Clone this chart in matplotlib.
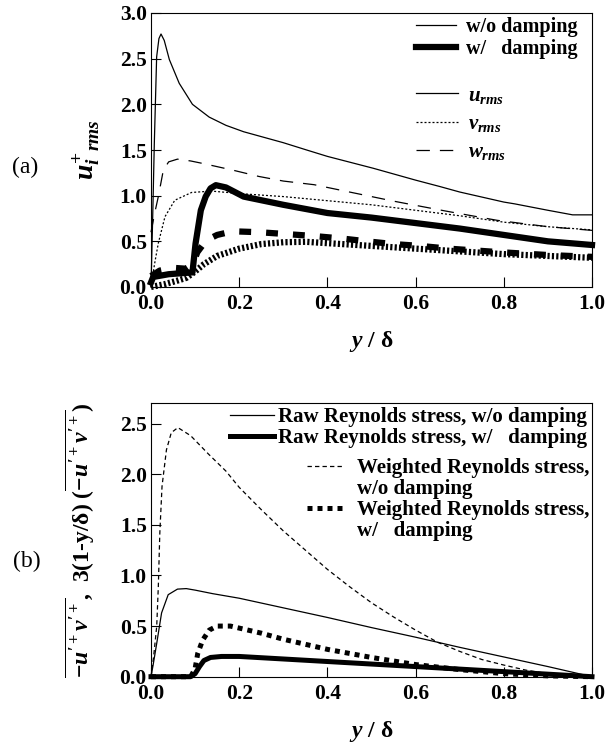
import numpy as np
import matplotlib
matplotlib.use('Agg')
import matplotlib.pyplot as plt
from matplotlib.lines import Line2D

plt.rcParams['font.family'] = ['Liberation Serif', 'DejaVu Serif']
plt.rcParams['font.weight'] = 'bold'
plt.rcParams['axes.labelweight'] = 'bold'
plt.rcParams['mathtext.fontset'] = 'custom'
plt.rcParams['mathtext.it'] = 'Liberation Serif:italic:bold'
plt.rcParams['mathtext.rm'] = 'Liberation Serif:bold'
plt.rcParams['mathtext.bf'] = 'Liberation Serif:bold'

# (a) rms velocity, w/o damping
yA_u0 = [0.0, 0.004, 0.0075, 0.0128, 0.018, 0.0227, 0.03, 0.0416, 0.064, 0.094, 0.132, 0.17, 0.21,
         0.3, 0.353, 0.4, 0.504, 0.6, 0.655, 0.7, 0.8, 0.825, 0.9, 0.956, 1.0]
uA_u0 = [0.0, 0.8, 1.57, 2.52, 2.72, 2.77, 2.7, 2.49, 2.23, 2.0, 1.86, 1.77, 1.70,
         1.58, 1.50, 1.43, 1.30, 1.17, 1.10, 1.04, 0.93, 0.91, 0.84, 0.79, 0.79]
yA_v0 = [0.0, 0.008, 0.0166, 0.0317, 0.054, 0.092, 0.137, 0.22, 0.3, 0.4, 0.5, 0.6, 0.7, 0.8, 0.9, 1.0]
uA_v0 = [0.0, 0.25, 0.48, 0.77, 0.95, 1.035, 1.05, 1.016, 0.99, 0.945, 0.90, 0.84, 0.78, 0.71, 0.66, 0.625]
yA_w0 = [0.0, 0.008, 0.0166, 0.028, 0.04, 0.06, 0.09, 0.12, 0.185, 0.245, 0.3, 0.37, 0.45, 0.55, 0.67, 0.785, 0.9, 1.0]
uA_w0 = [0.6, 0.8, 0.99, 1.28, 1.37, 1.40, 1.38, 1.35, 1.28, 1.21, 1.16, 1.12, 1.04, 0.94, 0.83, 0.73, 0.66, 0.62]

# (a) rms velocity, w/ damping
yA_u1 = [0.0, 0.005, 0.04, 0.094, 0.101, 0.113, 0.124, 0.135, 0.147, 0.17, 0.21, 0.25, 0.3, 0.4, 0.5,
         0.6, 0.7, 0.8, 0.9, 1.0]
uA_u1 = [0.05, 0.11, 0.14, 0.16, 0.475, 0.84, 0.99, 1.08, 1.115, 1.09, 0.99, 0.95, 0.90, 0.81, 0.76,
         0.70, 0.64, 0.57, 0.50, 0.46]
yA_v1 = [0.0, 0.03, 0.06, 0.08, 0.1, 0.12, 0.15, 0.2, 0.25, 0.3, 0.35, 0.4, 0.5, 0.6, 0.7, 0.8, 0.9, 1.0]
uA_v1 = [0.0, 0.03, 0.07, 0.10, 0.17, 0.25, 0.34, 0.42, 0.47, 0.49, 0.495, 0.48, 0.45, 0.42, 0.39, 0.36, 0.34, 0.32]
yA_w1 = [0.0, 0.02, 0.05, 0.08, 0.095, 0.105, 0.125, 0.15, 0.185, 0.245, 0.305, 0.365, 0.435, 0.49, 0.55,
         0.61, 0.675, 0.735, 0.795, 0.9, 1.0]
uA_w1 = [0.12, 0.18, 0.21, 0.2, 0.25, 0.38, 0.51, 0.57, 0.61, 0.60, 0.58, 0.56, 0.53, 0.50, 0.47,
         0.45, 0.42, 0.40, 0.38, 0.35, 0.33]

# (b) Reynolds stress
yB_raw0 = [0.0, 0.005, 0.013, 0.024, 0.039, 0.06, 0.08, 0.1, 0.14, 0.2, 0.3, 0.4, 0.5, 0.6, 0.7, 0.8, 0.9, 1.0]
sB_raw0 = [0.0, 0.12, 0.33, 0.63, 0.81, 0.865, 0.87, 0.855, 0.82, 0.775, 0.68, 0.585, 0.485, 0.39, 0.29, 0.195, 0.10, 0.0]
yB_wt0 = [0.0, 0.006, 0.013, 0.0166, 0.02, 0.025, 0.035, 0.046, 0.061, 0.09, 0.13, 0.17, 0.2, 0.25, 0.3,
          0.35, 0.4, 0.45, 0.5, 0.55, 0.6, 0.65, 0.7, 0.75, 0.8, 0.85, 0.9, 0.95, 1.0]
sB_wt0 = [0.0, 0.2, 0.5, 0.89, 1.42, 1.88, 2.24, 2.41, 2.46, 2.38, 2.2, 2.03, 1.87, 1.65, 1.44,
          1.25, 1.06, 0.89, 0.73, 0.59, 0.46, 0.34, 0.25, 0.17, 0.115, 0.065, 0.03, 0.008, 0.0]
yB_raw1 = [0.0, 0.09, 0.1, 0.11, 0.12, 0.135, 0.16, 0.2, 0.3, 0.4, 0.5, 0.6, 0.7, 0.8, 0.9, 1.0]
sB_raw1 = [0.0, 0.0, 0.03, 0.10, 0.16, 0.19, 0.20, 0.20, 0.175, 0.15, 0.125, 0.10, 0.075, 0.05, 0.025, 0.0]
yB_wt1 = [0.0, 0.09, 0.1, 0.106, 0.117, 0.132, 0.15, 0.18, 0.2, 0.25, 0.3, 0.35, 0.4, 0.5, 0.6, 0.7, 0.8, 0.9, 1.0]
sB_wt1 = [0.0, 0.0, 0.08, 0.23, 0.36, 0.46, 0.50, 0.50, 0.48, 0.43, 0.37, 0.32, 0.27, 0.19, 0.12, 0.07, 0.03, 0.008, 0.0]

xticks = [0.0, 0.2, 0.4, 0.6, 0.8, 1.0]
yticksA = [0.0, 0.5, 1.0, 1.5, 2.0, 2.5, 3.0]
yticksB = [0.0, 0.5, 1.0, 1.5, 2.0, 2.5]

thin = 0.9
thickA = 4.5
thickB = 3.6
ls_dash_long = (0, (10.7, 8.0))
ls_dot_thin = (0, (1.6, 1.6))
ls_dash_short = (0, (3.5, 2.5))
ls_dot_thickA = (0, (0.35, 0.35))
ls_dash_thickA = (0, (1.9, 2.4))
ls_dot_thickB = (0, (1.0, 1.0))


def styleAxis(ax, yticks, ylim):
    ax.set_xlim(0, 1)
    ax.set_ylim(*ylim)
    ax.set_xticks(xticks)
    ax.set_yticks(yticks)
    ax.set_xticklabels(['%.1f' % t for t in xticks])
    ax.set_yticklabels(['%.1f' % t for t in yticks])
    ax.tick_params(direction='in', length=7, width=0.8, labelsize=15.5, top=False, right=False)
    ax.tick_params(axis='x', pad=5)
    ax.tick_params(axis='y', pad=3)
    for s in ax.spines.values():
        s.set_linewidth(0.8)
    ax.set_xlabel(r'$y$ / δ', fontsize=17)
    ax.xaxis.set_label_coords(0.5, -0.155)


fig = plt.figure(figsize=(6.07, 7.53), dpi=100)

axA = fig.add_axes([151 / 607, 1 - 287 / 753, 441 / 607, 274 / 753])
axA.plot(yA_u0, uA_u0, color='k', lw=thin, clip_on=False)
axA.plot(yA_v0, uA_v0, color='k', lw=thin, ls=ls_dot_thin, clip_on=False)
axA.plot(yA_w0, uA_w0, color='k', lw=thin, ls=ls_dash_long, clip_on=False)
axA.plot(yA_u1, uA_u1, color='k', lw=thickA, clip_on=False)
axA.plot(yA_v1, uA_v1, color='k', lw=thickA, ls=ls_dot_thickA, clip_on=False)
axA.plot(yA_w1, uA_w1, color='k', lw=thickA, ls=ls_dash_thickA, clip_on=False)
styleAxis(axA, yticksA, (0, 3.0))
axA.set_ylabel(r'$u_{i\;\;rms}^{+}$', fontsize=20)
axA.yaxis.set_label_coords(-0.111, 0.5)

leg1 = axA.legend([Line2D([], [], color='k', lw=thin), Line2D([], [], color='k', lw=thickA)],
                  ['w/o damping', 'w/   damping'], loc='upper left', bbox_to_anchor=(0.601, 0.985),
                  frameon=False, fontsize=14.5, borderpad=0, borderaxespad=0, handlelength=2.0,
                  handletextpad=0.5, labelspacing=0.1)
axA.add_artist(leg1)
axA.legend([Line2D([], [], color='k', lw=thin), Line2D([], [], color='k', lw=thin, ls=ls_dot_thin),
            Line2D([], [], color='k', lw=thin, ls=ls_dash_long)],
           [r'$u_{rms}$', r'$v_{rms}$', r'$w_{rms}$'], loc='upper left', bbox_to_anchor=(0.601, 0.735),
           frameon=False, fontsize=15, borderpad=0, borderaxespad=0, handlelength=2.0,
           handletextpad=0.5, labelspacing=0.4)

axB = fig.add_axes([151 / 607, 1 - 676.7 / 753, 441 / 607, 273.4 / 753])
axB.plot(yB_raw0, sB_raw0, color='k', lw=thin, clip_on=False)
axB.plot(yB_wt0, sB_wt0, color='k', lw=thin, ls=ls_dash_short, clip_on=False)
axB.plot(yB_raw1, sB_raw1, color='k', lw=thickB, clip_on=False)
axB.plot(yB_wt1, sB_wt1, color='k', lw=thickB, ls=ls_dot_thickB, clip_on=False)
styleAxis(axB, yticksB, (0, 2.7))
axB.set_ylabel(r'$\overline{-u^{\prime +}v^{\prime +}}$,  3(1-y/δ) ($\overline{-u^{\prime +}v^{\prime +}}$)',
               fontsize=17)
axB.yaxis.set_label_coords(-0.122, 0.5)

leg3 = axB.legend([Line2D([], [], color='k', lw=thin), Line2D([], [], color='k', lw=thickB)],
                  ['Raw Reynolds stress, w/o damping', 'Raw Reynolds stress, w/   damping'],
                  loc='upper right', bbox_to_anchor=(0.989, 0.986), frameon=False, fontsize=15,
                  borderpad=0, borderaxespad=0, handlelength=2.1, handletextpad=0.2, labelspacing=0.05)
axB.add_artist(leg3)
blank = Line2D([], [], ls='none')
axB.legend([Line2D([], [], color='k', lw=thin, ls=ls_dash_short), blank,
            Line2D([], [], color='k', lw=thickB, ls=ls_dot_thickB), blank],
           ['Weighted Reynolds stress,', 'w/o damping', 'Weighted Reynolds stress,', 'w/   damping'],
           loc='upper right', bbox_to_anchor=(0.993, 0.80), frameon=False, fontsize=15,
           borderpad=0, borderaxespad=0, handlelength=1.8, handletextpad=0.6, labelspacing=0.05)

fig.text(25 / 607, 1 - 167 / 753, '(a)', fontsize=17, fontweight='normal', ha='center', va='center')
fig.text(27 / 607, 1 - 561 / 753, '(b)', fontsize=17, fontweight='normal', ha='center', va='center')

fig.savefig('out.png', dpi=100)
